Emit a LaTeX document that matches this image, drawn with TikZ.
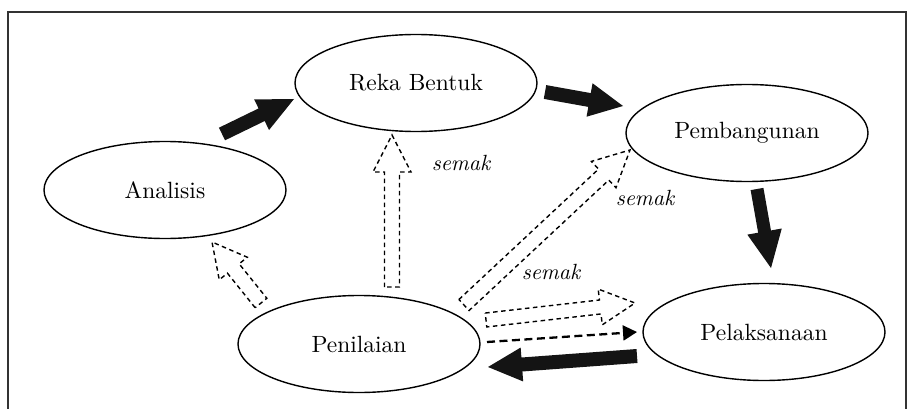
\documentclass[tikz,border=0pt]{standalone}
\usepackage{fontspec}
\setmainfont{lmroman10-regular.otf}[ItalicFont=lmroman10-italic.otf, BoldFont=lmroman10-bold.otf]
\usetikzlibrary{calc,shapes.geometric,arrows.meta}
\tikzset{
  stage/.style={draw=black, line width=1.4pt, ellipse, minimum width=242pt, minimum height=97pt, inner sep=0pt, font=\fontsize{23.5}{27}\selectfont},
  lbl/.style={font=\fontsize{22}{26}\selectfont\itshape, inner sep=0pt},
  solidarr/.style={fill=black!92, draw=none},
  hollowarr/.style={draw=black, line width=1.4pt, dash pattern=on 4.5pt off 3.5pt, line join=miter, fill=none},
  dasharr/.style={draw=black, line width=2.3pt, dash pattern=on 8pt off 4.5pt, -{Triangle[length=14pt,width=15pt]}},
  frame/.style={draw=black!80, line width=2pt}
}
\newcommand\blockarrow[7]{% #1 prefix, #2 style, #3 tail, #4 tip, #5 shaft half width, #6 head half width, #7 head length
  \coordinate (#1h) at ($(#4)!#7!(#3)$);
  \path[#2] ($(#3)!#5!90:(#4)$) -- ($(#1h)!#5!90:(#4)$) -- ($(#1h)!#6!90:(#4)$) -- (#4)
    -- ($(#1h)!#6!-90:(#4)$) -- ($(#1h)!#5!-90:(#4)$) -- ($(#3)!#5!-90:(#4)$) -- cycle;
}
\begin{document}
\begin{tikzpicture}[x=1pt,y=-1pt]
\useasboundingbox (0,0) rectangle (909,409);
\draw[frame] (906,410) -- (906,12) -- (8,12) -- (8,410);

\node[stage] (rb) at (416,83) {Reka Bentuk};
\node[stage] (pb) at (747,133) {Pembangunan};
\node[stage] (an) at (165,190) {Analisis};
\node[stage] (pn) at (359,344) {Penilaian};
\node[stage] (pl) at (764,332) {Pelaksanaan};

\node[lbl] (s1) at (461,163) {semak};
\node[lbl] (s2) at (645,198) {semak};
\node[lbl] (s3) at (551,272) {semak};

% solid block arrows
\coordinate (a1t) at (222,134); \coordinate (a1h) at (294,99);
\coordinate (a2t) at (545,92);  \coordinate (a2h) at (623,106);
\coordinate (a3t) at (757,189); \coordinate (a3h) at (771,268);
\coordinate (a4t) at (637,356); \coordinate (a4h) at (488,367);
\blockarrow{b1}{solidarr}{a1t}{a1h}{7pt}{17pt}{36pt}
\blockarrow{b2}{solidarr}{a2t}{a2h}{7pt}{17pt}{34pt}
\blockarrow{b3}{solidarr}{a3t}{a3h}{6.5pt}{17.5pt}{37pt}
\blockarrow{b4}{solidarr}{a4t}{a4h}{7pt}{17pt}{34pt}

% hollow dashed block arrows
\coordinate (h1t) at (261,303); \coordinate (h1h) at (212,242);
\coordinate (h2t) at (392,287); \coordinate (h2h) at (392,135);
\coordinate (h3t) at (464,305); \coordinate (h3h) at (630,150);
\coordinate (h4t) at (486,320); \coordinate (h4h) at (635,303);
\blockarrow{c1}{hollowarr}{h1t}{h1h}{7.5pt}{18pt}{34pt}
\blockarrow{c2}{hollowarr}{h2t}{h2h}{7.5pt}{19pt}{37pt}
\blockarrow{c3}{hollowarr}{h3t}{h3h}{7.5pt}{18pt}{36pt}
\blockarrow{c4}{hollowarr}{h4t}{h4h}{7pt}{18pt}{35pt}

% dashed arrow
\coordinate (d1t) at (487,342); \coordinate (d1h) at (637,332);
\draw[dasharr] (d1t) -- (d1h);
\end{tikzpicture}
\end{document}
